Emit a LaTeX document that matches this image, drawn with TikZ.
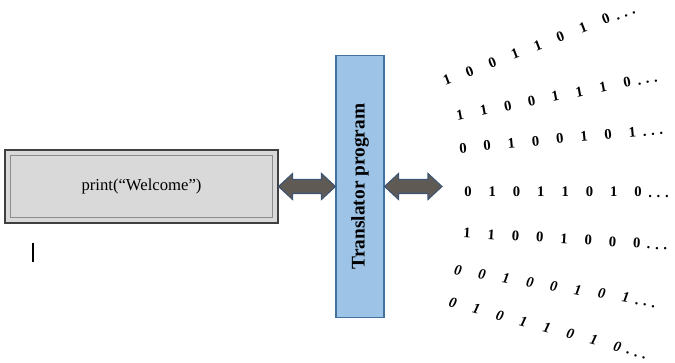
\documentclass[tikz,border=0pt]{standalone}
\usepackage{fontspec}
\setmainfont{Liberation Serif}
\usetikzlibrary{calc}
\definecolor{boxgray}{HTML}{D9D9D9}
\definecolor{barblue}{HTML}{9DC3E6}
\definecolor{barline}{HTML}{41719C}
\definecolor{arrowfill}{HTML}{5F5B54}
\definecolor{arrowline}{HTML}{3E5474}

\begin{document}
\begin{tikzpicture}[x=0.75pt,y=0.75pt,
  codebox/.style={draw=black!75,fill=boxgray,line width=0.8pt,minimum width=204.75pt,minimum height=54.75pt,font=\fontsize{12.5}{15}\selectfont},
  transbar/.style={draw=barline,fill=barblue,line width=0.8pt,minimum width=36pt,minimum height=196.5pt},
  fatarrow/.style={draw=arrowline,fill=arrowfill,line width=0.8pt,line join=miter},
  bit/.style={inner sep=0pt,font=\fontsize{11}{13}\selectfont}]
\useasboundingbox (0,0) rectangle (675,362);
\node[codebox] (box) at (141.5,175.5) {print(“Welcome”)};
\draw[black!45] ($(box.south west)+(6,6)$) rectangle ($(box.north east)+(-6,-6)$);
\draw[line width=1pt] (33,100) -- (33,119);
\node[transbar] (bar) at (360,175.5) {};
\node[rotate=90,font=\fontsize{14.5}{17}\selectfont\bfseries] (barlabel) at (bar) {Translator program};
\coordinate (bitsin) at (442,175.5);
\draw[fatarrow] (box.east) -- ++(14,13) -- ++(0,-6) -- ($(bar.west)+(-14,7)$) -- ++(0,6) -- (bar.west) -- ++(-14,-13) -- ++(0,6) -- ($(box.east)+(14,-7)$) -- ++(0,-6) -- cycle;
\draw[fatarrow] (bar.east) -- ++(14,13) -- ++(0,-6) -- ($(bitsin)+(-14,7)$) -- ++(0,6) -- (bitsin) -- ++(-14,-13) -- ++(0,6) -- ($(bar.east)+(14,-7)$) -- ++(0,-6) -- cycle;
\foreach \px/\py/\ang/\bits/\shp [count=\r] in {
  447/282/21/{1,0,0,1,1,0,1,0}/\bfseries,
  460/247/11/{1,1,0,0,1,1,1,0}/\bfseries,
  463/214/5.4/{0,0,1,0,0,1,0,1}/\bfseries,
  468/170/0/{0,1,0,1,1,0,1,0}/\bfseries,
  467/129/-3.4/{1,1,0,0,1,0,0,0}/\bfseries,
  458/92/-9.4/{0,0,1,0,0,1,0,1}/\bfseries\itshape,
  453/59/-14.8/{0,1,0,1,1,0,1,0}/\bfseries\itshape}
{
\begin{scope}[shift={(\px,\py)},rotate=\ang,transform shape]
\foreach \b [count=\i from 0] in \bits
  \node[bit] (bit\r\i) at (\i*24.3,0) {\shp\b};
\node[bit,anchor=base west] (dots\r) at (7*24.3+10,-5) {\shp.\kern3.5pt.\kern3.5pt.};
\end{scope}
}
\end{tikzpicture}
\end{document}
